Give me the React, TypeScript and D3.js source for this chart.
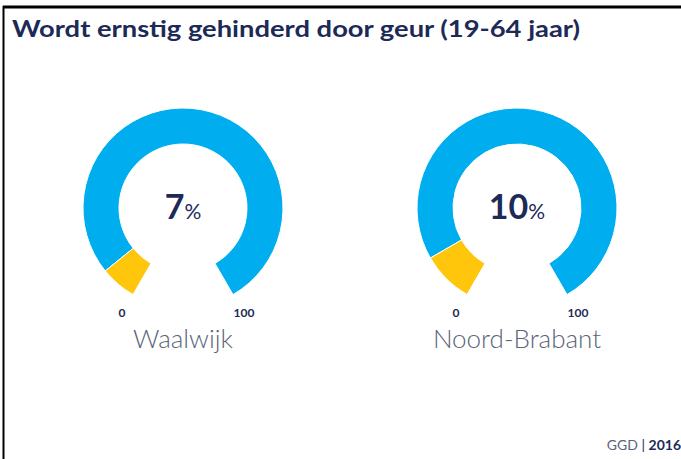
import React from "react";
import * as d3 from "d3";

const title = "Wordt ernstig gehinderd door geur (19-64 jaar)";
const regions = ["Waalwijk", "Noord-Brabant"];
const values = [7, 10];
const scaleDomain = [0, 100];
const scaleLabels = ["0", "100"];
const sourceLabel = "GGD";
const yearLabel = "2016";

const W = 681;
const H = 459;
const BLUE = "#00aeef";
const YELLOW = "#ffc60b";
const NAVY = "#1d2a57";
const GREY = "#5a6478";
const FONT = "Lato, 'Source Sans Pro', sans-serif";

export default function App() {
  const angle = d3
    .scaleLinear()
    .domain(scaleDomain)
    .range([(-150 * Math.PI) / 180, (150 * Math.PI) / 180]);
  const centerX = d3.scalePoint<string>().domain(regions).range([183, 517]);
  const cy = 208;
  const rOuter = 100;
  const rInner = 64;
  const arc = d3.arc<any>().innerRadius(rInner).outerRadius(rOuter);

  return (
    <svg
      width={W}
      height={H}
      style={{ position: "fixed", left: 0, top: 0, background: "#fff" }}
      fontFamily={FONT}
    >
      <line x1={3.5} x2={3.5} y1={6} y2={H} stroke="#000" strokeWidth={2} />
      <line x1={3} x2={W} y1={7} y2={7} stroke="#000" strokeWidth={3} />
      <text
        x={12}
        y={37}
        fontSize={23}
        fontWeight={700}
        fill={NAVY}
        textLength={568}
        lengthAdjust="spacingAndGlyphs"
      >
        {title}
      </text>
      {regions.map((r, i) => {
        const cx = centerX(r) as number;
        const v = values[i];
        const valuePath = arc({ startAngle: angle(scaleDomain[0]), endAngle: angle(v) });
        const restPath = arc({ startAngle: angle(v), endAngle: angle(scaleDomain[1]) });
        const a0 = angle(scaleDomain[0]);
        const a1 = angle(scaleDomain[1]);
        const labR = 0.61 * rOuter / 0.5;
        return (
          <g key={r}>
            <g transform={`translate(${cx},${cy})`}>
              <path d={restPath || ""} fill={BLUE} stroke="#fff" strokeWidth={1} />
              <path d={valuePath || ""} fill={YELLOW} stroke="#fff" strokeWidth={1} />
              <text textAnchor="middle" y={11} fill={NAVY}>
                <tspan fontSize={34} fontWeight={700}>{v}</tspan>
                <tspan fontSize={21} fontWeight={400}>%</tspan>
              </text>
              <text
                x={Math.sin(a0) * labR}
                y={109}
                textAnchor="middle"
                fontSize={12}
                fontWeight={700}
                fill={NAVY}
              >
                {scaleLabels[0]}
              </text>
              <text
                x={Math.sin(a1) * labR}
                y={109}
                textAnchor="middle"
                fontSize={12}
                fontWeight={700}
                fill={NAVY}
              >
                {scaleLabels[1]}
              </text>
            </g>
            <text
              x={cx}
              y={348}
              textAnchor="middle"
              fontSize={26}
              fontWeight={300}
              fill={GREY}
            >
              {r}
            </text>
          </g>
        );
      })}
      <text x={681} y={450} textAnchor="end" fontSize={14} fill={GREY}>
        {sourceLabel}
        <tspan fill={NAVY}> | </tspan>
        <tspan fontWeight={700} fill={NAVY}>{yearLabel}</tspan>
      </text>
    </svg>
  );
}
